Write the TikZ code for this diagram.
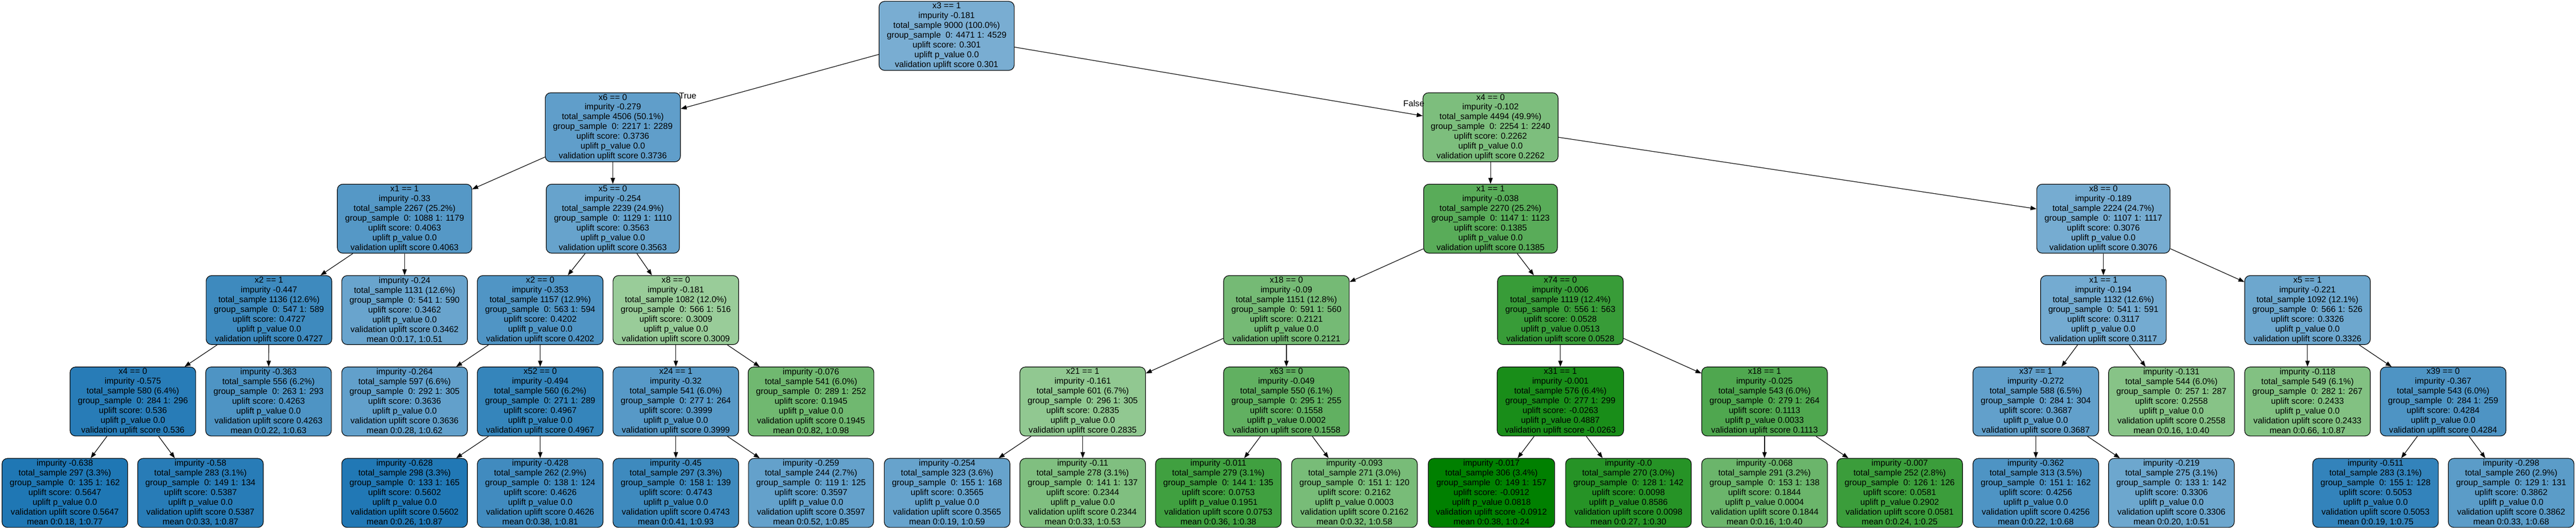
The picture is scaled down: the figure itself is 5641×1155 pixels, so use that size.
\documentclass[tikz,border=0pt]{standalone}
\usepackage{fontspec}
\setmainfont{Liberation Sans}
\usetikzlibrary{arrows.meta}
\definecolor{tb}{HTML}{1F77B4}
\definecolor{tg}{HTML}{008000}
\newcommand{\tnI}[8]{#1\\impurity #2\\total\_sample #3\\group\_sample\ \ 0: #4 1: #5\\uplift score: #6\\uplift p\_value #7\\validation uplift score #8}
\newcommand{\tnL}[8]{impurity #1\\total\_sample #2\\group\_sample\ \ 0: #3 1: #4\\uplift score: #5\\uplift p\_value #6\\validation uplift score #7\\mean #8}
\tikzset{
  tn/.style={draw=black, line width=1.33pt, rounded corners=12pt, align=center,
    inner xsep=17pt, inner ysep=0pt, minimum height=151pt, text=black,
    font=\fontsize{18.67pt}{21.4pt}\selectfont},
  edge/.style={line width=1.33pt, draw=black, -{Triangle[length=13pt,width=9.5pt]}},
  lbl/.style={inner sep=0pt, font=\fontsize{18.67pt}{21.4pt}\selectfont}
}
\begin{document}
\begin{tikzpicture}[x=1pt,y=-1pt]
\useasboundingbox (0,0) rectangle (5641,1155);
% level 0
\node[tn, fill=tb!60] (root) at (2073,78.5) {\tnI{x3 == 1}{-0.181}{9000 (100.0\%)}{4471}{4529}{0.301}{0.0}{0.301}};
% level 1
\node[tn, fill=tb!71] (a1) at (1342,278.5) {\tnI{x6 == 0}{-0.279}{4506 (50.1\%)}{2217}{2289}{0.3736}{0.0}{0.3736}};
\node[tn, fill=tg!51] (b1) at (3264,278.5) {\tnI{x4 == 0}{-0.102}{4494 (49.9\%)}{2254}{2240}{0.2262}{0.0}{0.2262}};
% level 2
\node[tn, fill=tb!76] (a2) at (886,478.5) {\tnI{x1 == 1}{-0.33}{2267 (25.2\%)}{1088}{1179}{0.4063}{0.0}{0.4063}};
\node[tn, fill=tb!68] (a3) at (1342,478.5) {\tnI{x5 == 0}{-0.254}{2239 (24.9\%)}{1129}{1110}{0.3563}{0.0}{0.3563}};
\node[tn, fill=tg!65] (b2) at (3264,478.5) {\tnI{x1 == 1}{-0.038}{2270 (25.2\%)}{1147}{1123}{0.1385}{0.0}{0.1385}};
\node[tn, fill=tb!61] (b3) at (4606,478.5) {\tnI{x8 == 0}{-0.189}{2224 (24.7\%)}{1107}{1117}{0.3076}{0.0}{0.3076}};
% level 3
\node[tn, fill=tb!86] (c1) at (589,678.5) {\tnI{x2 == 1}{-0.447}{1136 (12.6\%)}{547}{589}{0.4727}{0.0}{0.4727}};
\node[tn, fill=tb!67] (c2) at (886,678.5) {\tnL{-0.24}{1131 (12.6\%)}{541}{590}{0.3462}{0.0}{0.3462}{0:0.17, 1:0.51}};
\node[tn, fill=tb!78] (c3) at (1183,678.5) {\tnI{x2 == 0}{-0.353}{1157 (12.9\%)}{563}{594}{0.4202}{0.0}{0.4202}};
\node[tn, fill=tg!40] (c4) at (1480,678.5) {\tnI{x8 == 0}{-0.181}{1082 (12.0\%)}{566}{516}{0.3009}{0.0}{0.3009}};
\node[tn, fill=tg!54] (c5) at (2817,678.5) {\tnI{x18 == 0}{-0.09}{1151 (12.8\%)}{591}{560}{0.2121}{0.0}{0.2121}};
\node[tn, fill=tg!78] (c6) at (3417,678.5) {\tnI{x74 == 0}{-0.006}{1119 (12.4\%)}{556}{563}{0.0528}{0.0513}{0.0528}};
\node[tn, fill=tb!62] (c7) at (4606,678.5) {\tnI{x1 == 1}{-0.194}{1132 (12.6\%)}{541}{591}{0.3117}{0.0}{0.3117}};
\node[tn, fill=tb!65] (c8) at (5053,678.5) {\tnI{x5 == 1}{-0.221}{1092 (12.1\%)}{566}{526}{0.3326}{0.0}{0.3326}};
% level 4
\node[tn, fill=tb!96] (d1) at (291,878.5) {\tnI{x4 == 0}{-0.575}{580 (6.4\%)}{284}{296}{0.536}{0.0}{0.536}};
\node[tn, fill=tb!79] (d2) at (588,878.5) {\tnL{-0.363}{556 (6.2\%)}{263}{293}{0.4263}{0.0}{0.4263}{0:0.22, 1:0.63}};
\node[tn, fill=tb!70] (d3) at (886,878.5) {\tnL{-0.264}{597 (6.6\%)}{292}{305}{0.3636}{0.0}{0.3636}{0:0.28, 1:0.62}};
\node[tn, fill=tb!90] (d4) at (1183,878.5) {\tnI{x52 == 0}{-0.494}{560 (6.2\%)}{271}{289}{0.4967}{0.0}{0.4967}};
\node[tn, fill=tb!75] (d5) at (1480,878.5) {\tnI{x24 == 1}{-0.32}{541 (6.0\%)}{277}{264}{0.3999}{0.0}{0.3999}};
\node[tn, fill=tg!56] (d6) at (1776,878.5) {\tnL{-0.076}{541 (6.0\%)}{289}{252}{0.1945}{0.0}{0.1945}{0:0.82, 1:0.98}};
\node[tn, fill=tg!43] (d7) at (2371,878.5) {\tnI{x21 == 1}{-0.161}{601 (6.7\%)}{296}{305}{0.2835}{0.0}{0.2835}};
\node[tn, fill=tg!62] (d8) at (2817,878.5) {\tnI{x63 == 0}{-0.049}{550 (6.1\%)}{295}{255}{0.1558}{0.0002}{0.1558}};
\node[tn, fill=tg!90] (d9) at (3417,878.5) {\tnI{x31 == 1}{-0.001}{576 (6.4\%)}{277}{299}{-0.0263}{0.4887}{-0.0263}};
\node[tn, fill=tg!69] (d10) at (3864,878.5) {\tnI{x18 == 1}{-0.025}{543 (6.0\%)}{279}{264}{0.1113}{0.0033}{0.1113}};
\node[tn, fill=tb!70] (d11) at (4458,878.5) {\tnI{x37 == 1}{-0.272}{588 (6.5\%)}{284}{304}{0.3687}{0.0}{0.3687}};
\node[tn, fill=tg!47] (d12) at (4755,878.5) {\tnL{-0.131}{544 (6.0\%)}{257}{287}{0.2558}{0.0}{0.2558}{0:0.16, 1:0.40}};
\node[tn, fill=tg!49] (d13) at (5053,878.5) {\tnL{-0.118}{549 (6.1\%)}{282}{267}{0.2433}{0.0}{0.2433}{0:0.66, 1:0.87}};
\node[tn, fill=tb!79] (d14) at (5350,878.5) {\tnI{x39 == 0}{-0.367}{543 (6.0\%)}{284}{259}{0.4284}{0.0}{0.4284}};
% level 5
\node[tn, fill=tb!100] (e1) at (142,1078.5) {\tnL{-0.638}{297 (3.3\%)}{135}{162}{0.5647}{0.0}{0.5647}{0:0.18, 1:0.77}};
\node[tn, fill=tb!96] (e2) at (439,1078.5) {\tnL{-0.58}{283 (3.1\%)}{149}{134}{0.5387}{0.0}{0.5387}{0:0.33, 1:0.87}};
\node[tn, fill=tb!99] (e3) at (886,1078.5) {\tnL{-0.628}{298 (3.3\%)}{133}{165}{0.5602}{0.0}{0.5602}{0:0.26, 1:0.87}};
\node[tn, fill=tb!85] (e4) at (1183,1078.5) {\tnL{-0.428}{262 (2.9\%)}{138}{124}{0.4626}{0.0}{0.4626}{0:0.38, 1:0.81}};
\node[tn, fill=tb!86] (e5) at (1480,1078.5) {\tnL{-0.45}{297 (3.3\%)}{158}{139}{0.4743}{0.0}{0.4743}{0:0.41, 1:0.93}};
\node[tn, fill=tb!69] (e6) at (1776,1078.5) {\tnL{-0.259}{244 (2.7\%)}{119}{125}{0.3597}{0.0}{0.3597}{0:0.52, 1:0.85}};
\node[tn, fill=tb!68] (e7) at (2074,1078.5) {\tnL{-0.254}{323 (3.6\%)}{155}{168}{0.3565}{0.0}{0.3565}{0:0.19, 1:0.59}};
\node[tn, fill=tg!50] (e8) at (2371,1078.5) {\tnL{-0.11}{278 (3.1\%)}{141}{137}{0.2344}{0.0}{0.2344}{0:0.33, 1:0.53}};
\node[tn, fill=tg!75] (e9) at (2668,1078.5) {\tnL{-0.011}{279 (3.1\%)}{144}{135}{0.0753}{0.1951}{0.0753}{0:0.36, 1:0.38}};
\node[tn, fill=tg!53] (e10) at (2966,1078.5) {\tnL{-0.093}{271 (3.0\%)}{151}{120}{0.2162}{0.0003}{0.2162}{0:0.32, 1:0.58}};
\node[tn, fill=tg!100] (e11) at (3266,1078.5) {\tnL{-0.017}{306 (3.4\%)}{149}{157}{-0.0912}{0.0818}{-0.0912}{0:0.38, 1:0.24}};
\node[tn, fill=tg!85] (e12) at (3566,1078.5) {\tnL{-0.0}{270 (3.0\%)}{128}{142}{0.0098}{0.8586}{0.0098}{0:0.27, 1:0.30}};
\node[tn, fill=tg!58] (e13) at (3864,1078.5) {\tnL{-0.068}{291 (3.2\%)}{153}{138}{0.1844}{0.0004}{0.1844}{0:0.16, 1:0.40}};
\node[tn, fill=tg!77] (e14) at (4160,1078.5) {\tnL{-0.007}{252 (2.8\%)}{126}{126}{0.0581}{0.2902}{0.0581}{0:0.24, 1:0.25}};
\node[tn, fill=tb!79] (e15) at (4458,1078.5) {\tnL{-0.362}{313 (3.5\%)}{151}{162}{0.4256}{0.0}{0.4256}{0:0.22, 1:0.68}};
\node[tn, fill=tb!65] (e16) at (4755,1078.5) {\tnL{-0.219}{275 (3.1\%)}{133}{142}{0.3306}{0.0}{0.3306}{0:0.20, 1:0.51}};
\node[tn, fill=tb!91] (e17) at (5202,1078.5) {\tnL{-0.511}{283 (3.1\%)}{155}{128}{0.5053}{0.0}{0.5053}{0:0.19, 1:0.75}};
\node[tn, fill=tb!73] (e18) at (5499,1078.5) {\tnL{-0.298}{260 (2.9\%)}{129}{131}{0.3862}{0.0}{0.3862}{0:0.33, 1:0.68}};
% edge labels
\node[lbl] (tlab) at (1506,210) {True};
\node[lbl] (flab) at (3096,226) {False};
% edges
\foreach \p/\c in {root/a1, root/b1, a1/a2, a1/a3, a2/c1, a2/c2, a3/c3, a3/c4,
  c1/d1, c1/d2, c3/d3, c3/d4, c4/d5, c4/d6, d1/e1, d1/e2, d4/e3, d4/e4, d5/e5, d5/e6,
  b1/b2, b1/b3, b2/c5, b2/c6, c5/d7, c5/d8, c6/d9, c6/d10, d7/e7, d7/e8, d8/e9, d8/e10,
  d9/e11, d9/e12, d10/e13, d10/e14, b3/c7, b3/c8, c7/d11, c7/d12, c8/d13, c8/d14,
  d11/e15, d11/e16, d14/e17, d14/e18}
  \draw[edge] (\p) -- (\c);
\end{tikzpicture}
\end{document}
